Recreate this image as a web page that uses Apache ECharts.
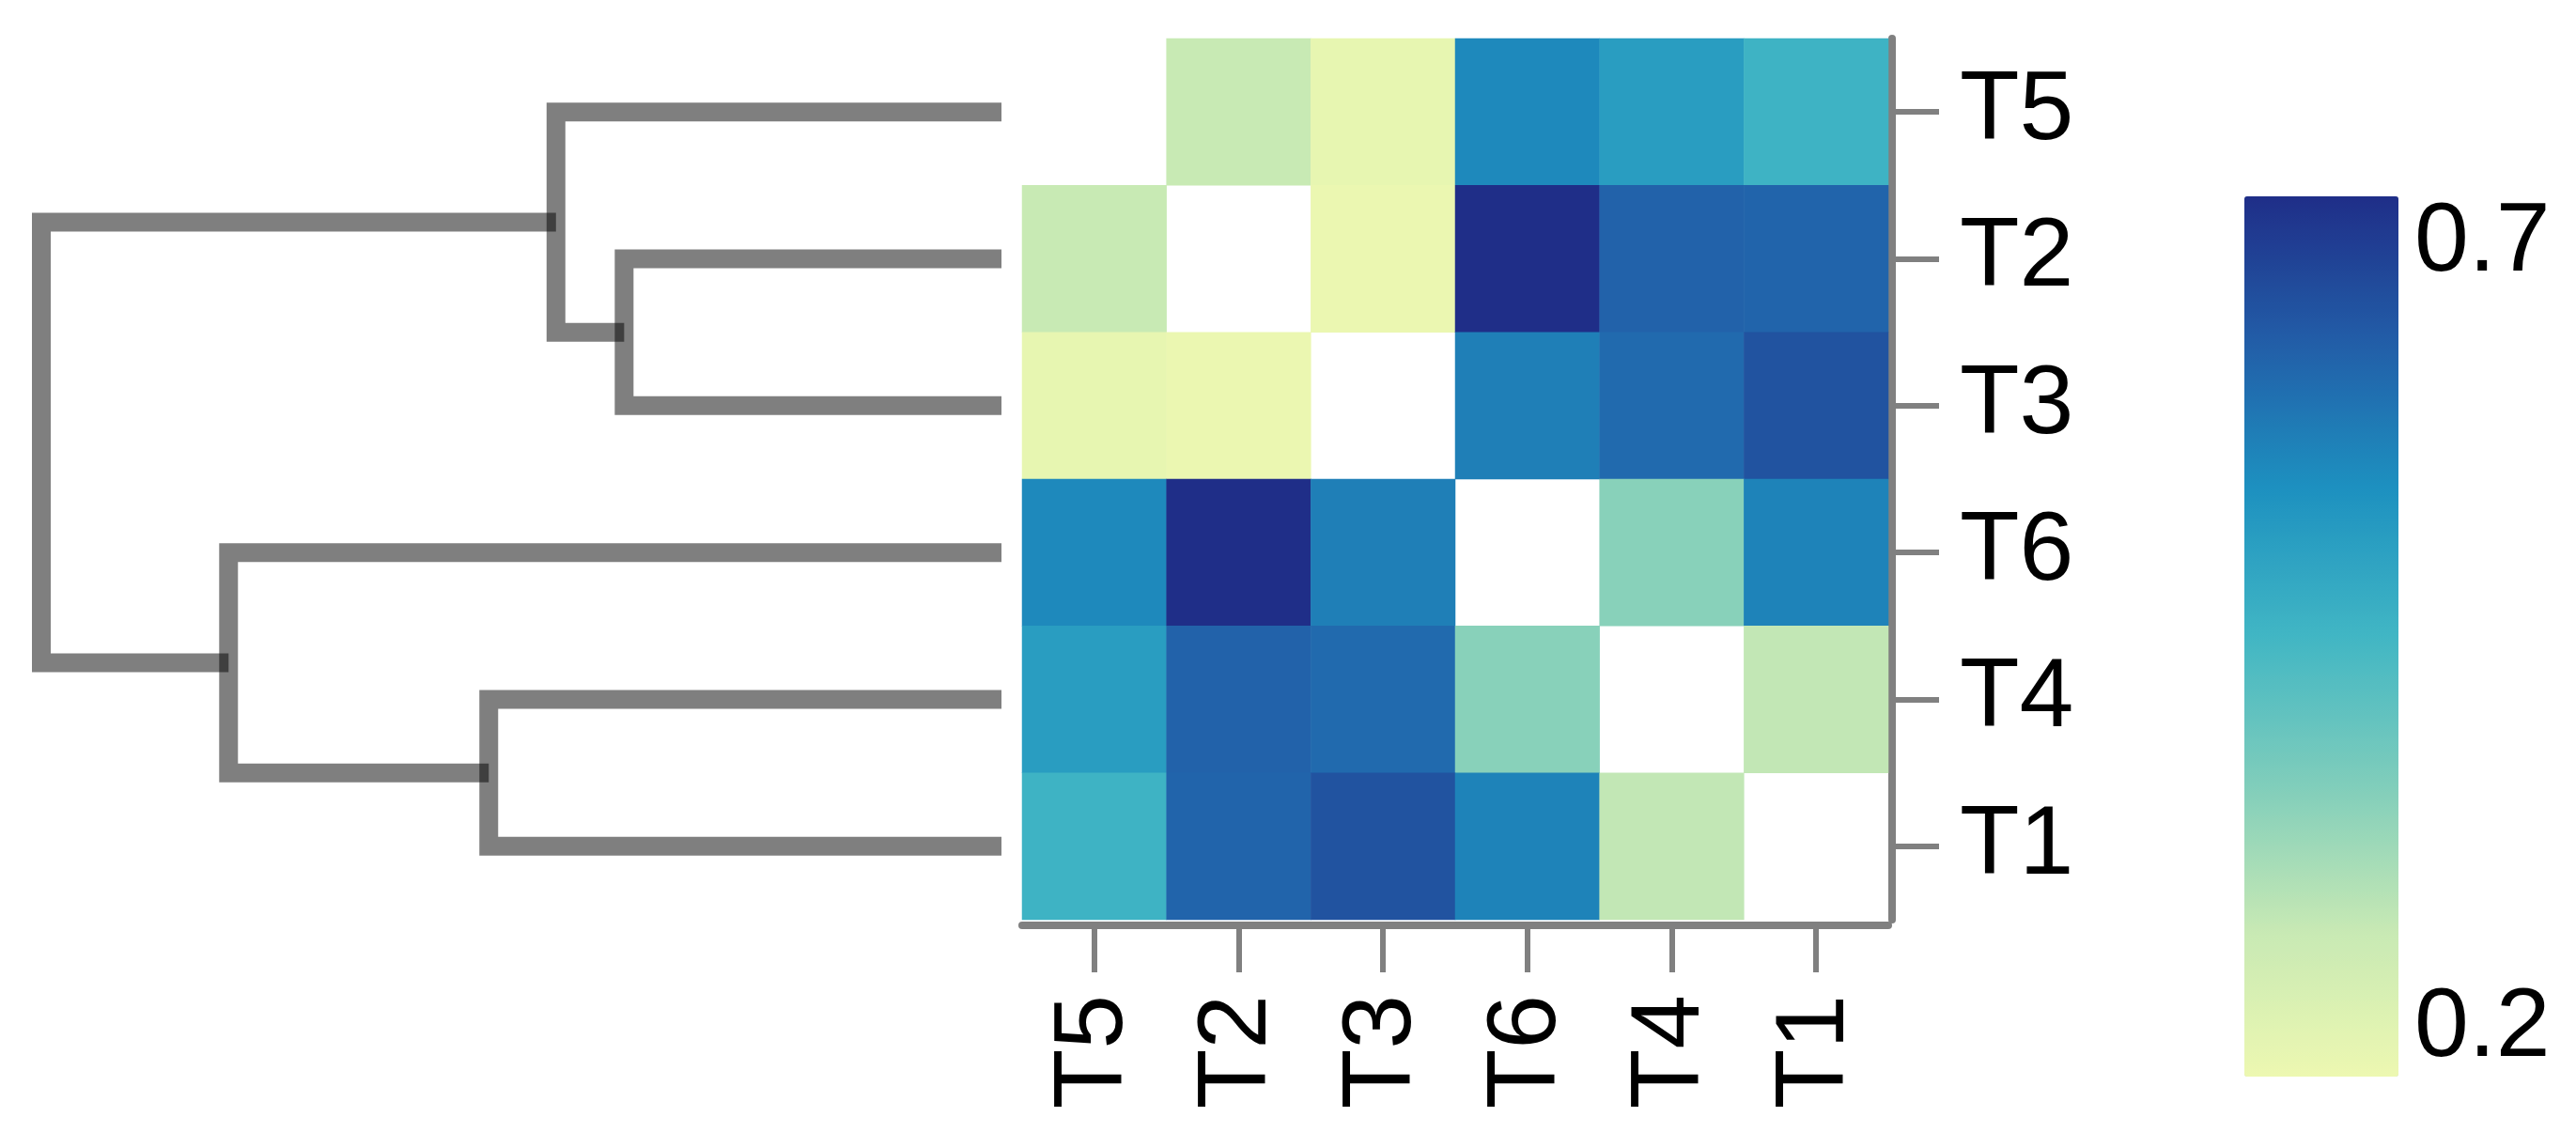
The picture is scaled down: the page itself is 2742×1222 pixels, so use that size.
<!DOCTYPE html>
<html>
<head>
<meta charset="utf-8">
<title>heatmap</title>
<script src="https://cdn.jsdelivr.net/npm/echarts@6/dist/echarts.min.js"></script>
<style>
	html,body{
		margin: 0;
		padding: 0;
		background: #fff;
	}
	#main{
		width: 2742px;
		height: 1222px;
	}
</style>
</head>
<body>
<div id="main"></div>
<script>
// sample order (rows top->bottom, columns left->right)
var labels = ['T5', 'T2', 'T3', 'T6', 'T4', 'T1'];

// matrix rows, '-' on the diagonal (left blank)
var rowT5 = ['-', 0.26, 0.185, 0.558, 0.513, 0.457];
var rowT2 = [0.26, '-', 0.175, 0.73, 0.63, 0.625];
var rowT3 = [0.185, 0.175, '-', 0.577, 0.614, 0.659];
var rowT6 = [0.558, 0.73, 0.577, '-', 0.345, 0.569];
var rowT4 = [0.513, 0.63, 0.614, 0.345, '-', 0.27];
var rowT1 = [0.457, 0.625, 0.659, 0.569, 0.27, '-'];

// colour bar
var scaleMin = 0.17;
var scaleMax = 0.73;
var scaleTicks = [0.2, 0.7];
var scaleColors = ['#edf8b1', '#c7e9b4', '#7fcdbb', '#41b6c4', '#1d91c0', '#225ea8', '#1f2e88'];

// dendrogram merges: [left, right, height]; numbers refer to earlier merges
var merges = [
	['T2', 'T3', 0.393],
	['T5', 0, 0.464],
	['T4', 'T1', 0.534],
	['T6', 2, 0.805],
	[1, 3, 1.0]
];

var rows = [rowT5, rowT2, rowT3, rowT6, rowT4, rowT1];
var heatData = [];
rows.forEach(function (row, r) {
	row.forEach(function (v, c) {
		heatData.push([c, r, v]);
	});
});

// walk the merges to get the tree's elbow lines
var nodes = [];
function nodePos(ref) {
	if (typeof ref === 'string') {
		return { y: labels.indexOf(ref) + 0.5, h: 0 };
	}
	return nodes[ref];
}
var treeLines = [];
merges.forEach(function (m) {
	var a = nodePos(m[0]);
	var b = nodePos(m[1]);
	treeLines.push({
		coords: [[a.h, a.y], [m[2], a.y], [m[2], b.y], [b.h, b.y]]
	});
	nodes.push({ y: (a.y + b.y) / 2, h: m[2] });
});

var font = 'Liberation Sans, Arial, sans-serif';
var gray = '#808080';

var myChart = echarts.init(document.getElementById('main'));
var option = {
	backgroundColor: '#fff',
	animation: false,
	grid: [
		{ left: 1088, top: 41, width: 922, height: 938 },
		{ left: 44, top: 41, width: 1022, height: 938 },
		{ left: 2389, top: 209, width: 164, height: 937 }
	],
	xAxis: [
		{
			type: 'category',
			gridIndex: 0,
			data: labels,
			position: 'bottom',
			offset: 6,
			axisLine: { show: true, lineStyle: { color: gray, width: 8 } },
			axisTick: { show: true, alignWithLabel: true, length: 50, lineStyle: { color: gray, width: 6 } },
			axisLabel: { rotate: 90, margin: 74, fontSize: 104, color: '#000', fontFamily: font },
			splitLine: { show: false }
		},
		{ type: 'value', gridIndex: 1, min: 0, max: 1, inverse: true, show: false },
		{ type: 'value', gridIndex: 2, min: 0, max: 1, show: false }
	],
	yAxis: [
		{
			type: 'category',
			gridIndex: 0,
			data: labels,
			inverse: true,
			position: 'right',
			offset: 4,
			axisLine: { show: true, lineStyle: { color: gray, width: 8 } },
			axisTick: { show: true, alignWithLabel: true, length: 50, lineStyle: { color: gray, width: 6 } },
			axisLabel: { margin: 72, fontSize: 104, color: '#000', fontFamily: font },
			splitLine: { show: false }
		},
		{ type: 'value', gridIndex: 1, min: 0, max: 6, inverse: true, show: false },
		{
			type: 'value',
			gridIndex: 2,
			min: scaleMin,
			max: scaleMax,
			position: 'right',
			axisLine: { show: false },
			axisTick: { show: false },
			splitLine: { show: false },
			axisLabel: {
				customValues: scaleTicks,
				margin: 17,
				fontSize: 104,
				color: '#000',
				fontFamily: font,
				formatter: function (v) { return v.toFixed(1); }
			}
		}
	],
	visualMap: {
		type: 'continuous',
		seriesIndex: 0,
		min: scaleMin,
		max: scaleMax,
		calculable: false,
		hoverLink: false,
		orient: 'vertical',
		left: 2389,
		top: 209,
		padding: 0,
		itemWidth: 164,
		itemHeight: 937,
		text: null,
		inRange: { color: scaleColors }
	},
	series: [
		{
			type: 'heatmap',
			xAxisIndex: 0,
			yAxisIndex: 0,
			data: heatData,
			silent: true
		},
		{
			type: 'lines',
			coordinateSystem: 'cartesian2d',
			xAxisIndex: 1,
			yAxisIndex: 1,
			polyline: true,
			silent: true,
			data: treeLines,
			lineStyle: { color: 'rgba(0,0,0,0.5)', width: 20, opacity: 1, cap: 'butt', join: 'miter' }
		}
	]
};
myChart.setOption(option);
</script>
</body>
</html>
